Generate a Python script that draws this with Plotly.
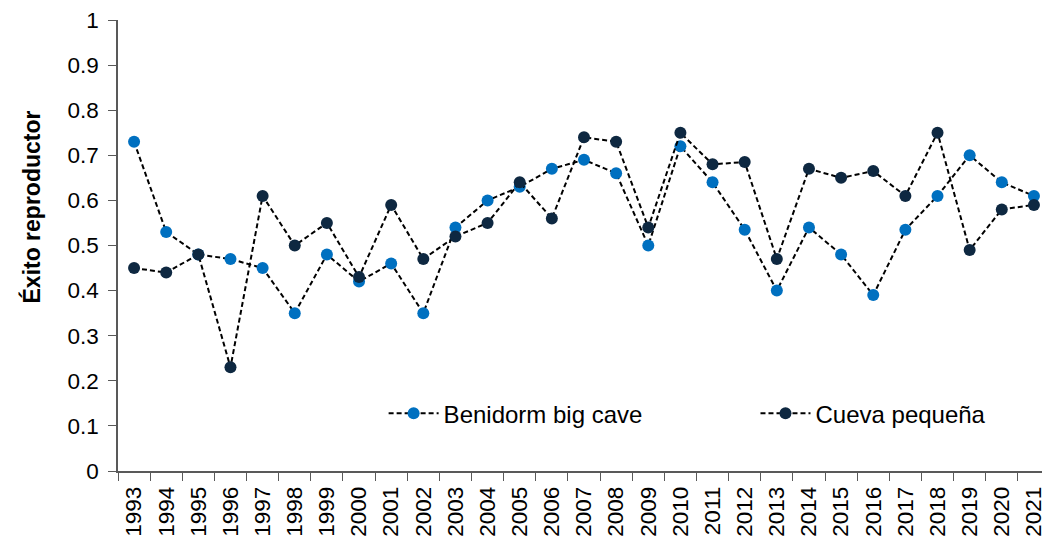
import plotly.graph_objects as go

years = [str(y) for y in range(1993, 2022)]
benidorm = [0.73, 0.53, 0.48, 0.47, 0.45, 0.35, 0.48, 0.42, 0.46, 0.35,
            0.54, 0.60, 0.63, 0.67, 0.69, 0.66, 0.50, 0.72, 0.64, 0.535,
            0.40, 0.54, 0.48, 0.39, 0.535, 0.61, 0.70, 0.64, 0.61]
cueva = [0.45, 0.44, 0.48, 0.23, 0.61, 0.50, 0.55, 0.43, 0.59, 0.47,
         0.52, 0.55, 0.64, 0.56, 0.74, 0.73, 0.54, 0.75, 0.68, 0.685,
         0.47, 0.67, 0.65, 0.665, 0.61, 0.75, 0.49, 0.58, 0.59]
names = ["Benidorm big cave", "Cueva pequeña"]
colors = ["#0070C0", "#0E2841"]
y_ticks = [0, 0.1, 0.2, 0.3, 0.4, 0.5, 0.6, 0.7, 0.8, 0.9, 1]
y_ticktext = ["0", "0.1", "0.2", "0.3", "0.4", "0.5", "0.6", "0.7", "0.8", "0.9", "1"]

FONT = "Liberation Sans, Arial, sans-serif"
legend_ids = ["legend", "legend2"]

fig = go.Figure()
for name, vals, col, lg in zip(names, [benidorm, cueva], colors, legend_ids):
    fig.add_trace(go.Scatter(
        x=years, y=vals, name=name, mode="lines+markers",
        line=dict(color="#000000", width=2, dash="5px,3px"),
        marker=dict(color=col, size=12),
        legend=lg,
    ))

legend_style = dict(
    orientation="h", xanchor="left", yanchor="middle", y=0.127,
    font=dict(size=24, family=FONT, color="#000000"),
    bgcolor="rgba(0,0,0,0)", itemwidth=50,
)

# page body has an 8px default margin: compensate so the plot lands where the reference has it
fig.update_layout(
    width=1042, height=534,
    margin=dict(l=110, r=0, t=12, b=71),
    paper_bgcolor="white", plot_bgcolor="white",
    font=dict(family=FONT, color="#000000"),
    showlegend=True,
    legend=dict(x=0.285, **legend_style),
    legend2=dict(x=0.684, **legend_style),
    annotations=[dict(
        text="<b>Éxito reproductor</b>", textangle=-90,
        xref="paper", yref="paper", x=-0.0925, y=0.586,
        xanchor="center", yanchor="middle", showarrow=False,
        font=dict(size=23, family=FONT, color="#000000"),
    )],
)
fig.update_xaxes(
    type="category", range=[-0.5, len(years) - 0.5], automargin=False,
    showline=True, linecolor="#595959", linewidth=1.5,
    ticks="outside", tickson="boundaries", ticklen=8, tickcolor="#595959",
    tickangle=-90, ticklabelstandoff=5, ticklabeloverflow="allow",
    tickfont=dict(size=22.5, family=FONT, color="#000000"),
    showgrid=False, zeroline=False,
)
fig.update_yaxes(
    range=[0, 1], tickvals=y_ticks, ticktext=y_ticktext, automargin=False,
    showline=True, linecolor="#595959", linewidth=1.5,
    ticks="outside", ticklen=8, tickcolor="#595959", ticklabelstandoff=5,
    ticklabeloverflow="allow",
    tickfont=dict(size=22.5, family=FONT, color="#000000"),
    showgrid=False, zeroline=False,
)

fig.write_html("out.html")
